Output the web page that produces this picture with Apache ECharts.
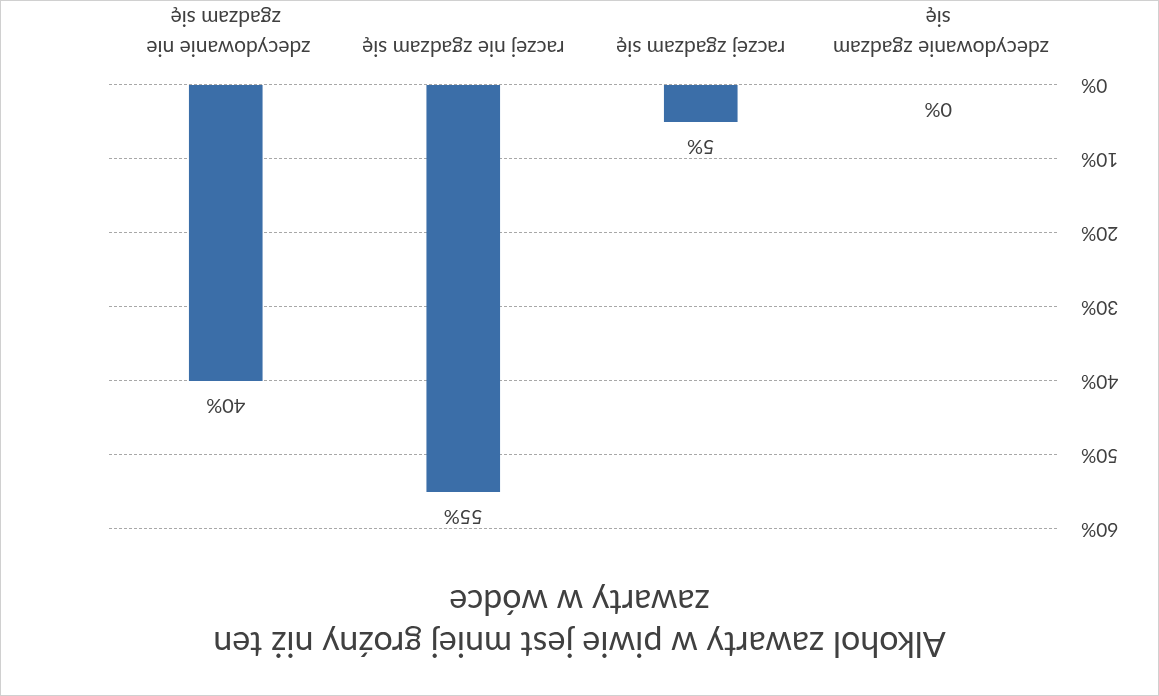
<!DOCTYPE html>
<html>
<head>
<meta charset="utf-8">
<script src="https://cdn.jsdelivr.net/npm/echarts@6/dist/echarts.min.js"></script>
<style>
	html, body { margin: 0; padding: 0; background: #fff; }
	#wrap {
		width: 1159px; height: 696px;
		transform: rotate(180deg);
		box-sizing: border-box;
		border: 1px solid #d0d0d0;
	}
	#chart { width: 100%; height: 100%; }
</style>
</head>
<body>
<div id="wrap"><div id="chart"></div></div>
<script>
var titleText = 'Alkohol zawarty w piwie jest mniej groźny niż ten\nzawarty w wódce';
var categories = ['zdecydowanie zgadzam się', 'raczej zgadzam się', 'raczej nie zgadzam się', 'zdecydowanie nie zgadzam się'];
var values = [0, 5, 55, 40];
var tickLabels = ['0%', '10%', '20%', '30%', '40%', '50%', '60%'];

var font = 'Lato';
var textColor = '#404040';

var myChart = echarts.init(document.getElementById('chart'));
var option = {
	animation: false,
	title: {
		text: titleText,
		left: 'center',
		top: 26,
		textStyle: {
			fontFamily: font,
			fontSize: 34,
			fontWeight: 'normal',
			color: textColor,
			lineHeight: 42
		}
	},
	grid: {
		left: 101,
		right: 106,
		top: 166,
		bottom: 84
	},
	xAxis: {
		type: 'category',
		data: categories,
		axisLine: { show: false },
		axisTick: { show: false },
		axisLabel: {
			interval: 0,
			margin: 22,
			width: 245,
			overflow: 'break',
			fontFamily: font,
			fontSize: 21,
			lineHeight: 30,
			color: textColor
		}
	},
	yAxis: {
		type: 'value',
		min: 0,
		max: 60,
		interval: 10,
		axisLine: { show: false },
		axisTick: { show: false },
		splitLine: {
			lineStyle: { color: '#a8a8a8', type: [3, 2], width: 1 }
		},
		axisLabel: {
			margin: 24,
			fontFamily: font,
			fontSize: 19,
			color: textColor,
			formatter: function (v) { return tickLabels[v / 10]; }
		}
	},
	series: [{
		type: 'bar',
		data: values,
		barWidth: '31%',
		itemStyle: { color: '#3b6ea8' },
		label: {
			show: true,
			position: 'top',
			distance: 14,
			fontFamily: font,
			fontSize: 20,
			color: textColor,
			formatter: '{c}%'
		}
	}]
};
myChart.setOption(option);
</script>
</body>
</html>
